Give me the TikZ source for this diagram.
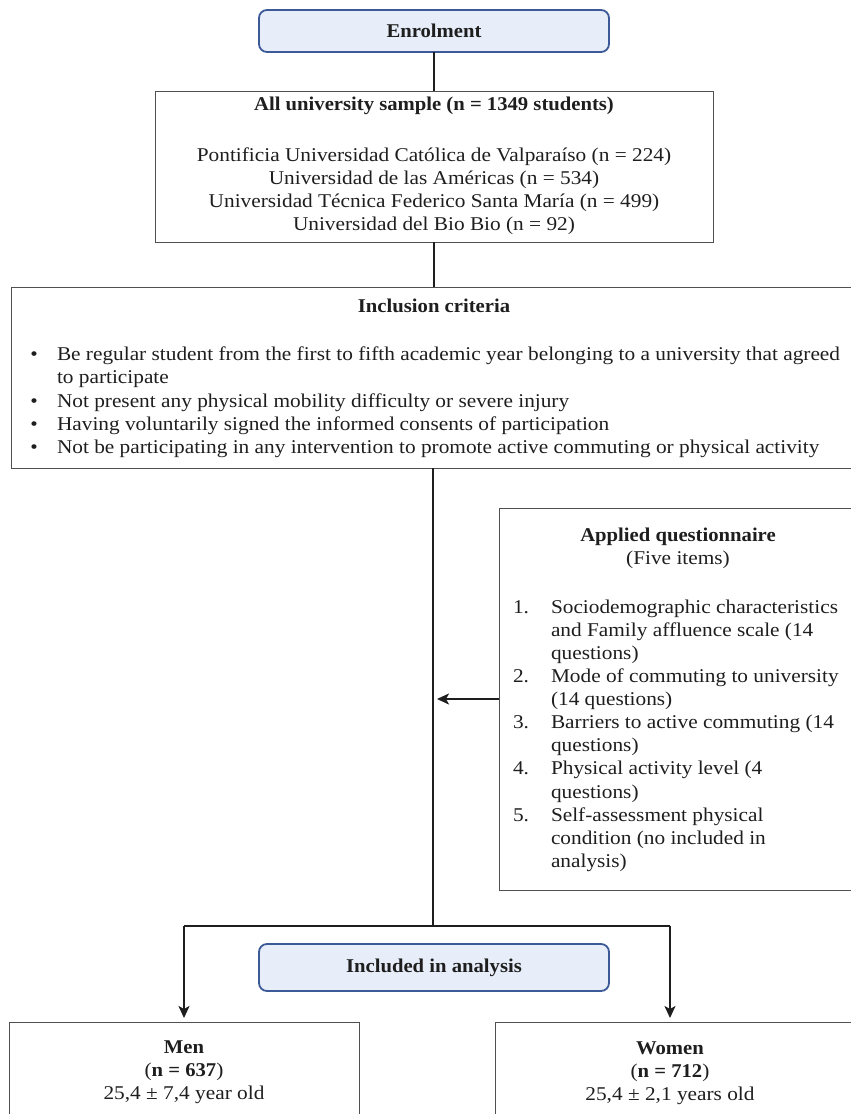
\documentclass[tikz,border=0pt]{standalone}
\usepackage{fontspec}
\setmainfont{Liberation Serif}[FakeStretch=1.093, BoldFeatures={FakeStretch=1.06}]
\usetikzlibrary{arrows.meta}

\definecolor{ink}{HTML}{1E1E1E}
\definecolor{pale}{HTML}{E8EEF9}
\definecolor{navy}{HTML}{3D5A98}
\definecolor{frame}{HTML}{505050}

\begin{document}
\begin{tikzpicture}[x=1pt,y=-1pt,
  every node/.style={inner sep=0pt, outer sep=0pt, text=ink,
    font=\fontsize{19.5}{23}\selectfont},
  pill/.style={draw=navy, line width=1.8pt, fill=pale, rounded corners=8pt},
  panel/.style={draw=frame, line width=1pt},
  link/.style={draw=ink, line width=1.8pt},
  tip/.style={-{Stealth[length=12pt,width=11pt,inset=3pt]}},
  line/.style={anchor=base},
  lline/.style={anchor=base west}
]
\useasboundingbox (0,0) rectangle (851,1114);
\clip (0,0) rectangle (851,1114);

% boxes
\node[pill, minimum width=350pt, minimum height=42pt] (enrol) at (434,31) {\bfseries Enrolment};
\node[panel, minimum width=558pt, minimum height=151pt] (all) at (434,166.5) {};
\node[panel, minimum width=846pt, minimum height=181pt] (incl) at (434,377.5) {};
\node[panel, minimum width=360pt, minimum height=382pt] (quest) at (679,699) {};
\node[pill, minimum width=350pt, minimum height=47pt] (incan) at (434,967.5) {\bfseries Included in analysis};
\node[panel, minimum width=350pt, minimum height=100pt] (men) at (184,1072) {};
\node[panel, minimum width=366pt, minimum height=100pt] (women) at (678,1072) {};

% sample box
\node[line] at (434,110) {\bfseries All university sample (n = 1349 students)};
\node[line] at (434,161) {Pontificia Universidad Católica de Valparaíso (n = 224)};
\node[line] at (434,184) {Universidad de las Américas (n = 534)};
\node[line] at (434,207) {Universidad Técnica Federico Santa María (n = 499)};
\node[line] at (434,230) {Universidad del Bio Bio (n = 92)};

% inclusion criteria
\node[line] at (434,312) {\bfseries Inclusion criteria};
\foreach \yy/\txt in {360/Be regular student from the first to fifth academic year belonging to a university that agreed,
                      383/to participate,
                      407/Not present any physical mobility difficulty or severe injury,
                      430/Having voluntarily signed the informed consents of participation,
                      453/Not be participating in any intervention to promote active commuting or physical activity}
  \node[lline] at (57,\yy) {\txt};
\foreach \yy in {360,407,430,453}
  \node[line] at (34,\yy) {\textbullet};

% questionnaire
\node[line] at (678,541) {\bfseries Applied questionnaire};
\node[line] at (678,564) {(Five items)};
\foreach \yy/\txt in {613/Sociodemographic characteristics,
                      636/and Family affluence scale (14,
                      659/questions),
                      682/Mode of commuting to university,
                      705/(14 questions),
                      728/Barriers to active commuting (14,
                      751/questions),
                      774/Physical activity level (4,
                      798/questions),
                      821/Self-assessment physical,
                      844/condition (no included in,
                      867/analysis)}
  \node[lline] at (551,\yy) {\txt};
\foreach \yy/\num in {613/1., 682/2., 728/3., 774/4., 821/5.}
  \node[lline] at (513,\yy) {\num};

% sex groups
\node[line] at (184,1053) {\bfseries Men};
\node[line] at (184,1076) {(\textbf{n = 637})};
\node[line] at (184,1099) {25,4 ± 7,4 year old};
\node[line] at (670,1054) {\bfseries Women};
\node[line] at (670,1077) {(\textbf{n = 712})};
\node[line] at (670,1100) {25,4 ± 2,1 years old};

% connectors
\coordinate (fork) at (433,926);
\coordinate (mdrop) at (184,926);
\coordinate (wdrop) at (670,926);
\draw[link] (enrol.south) -- (all.north);
\draw[link] (all.south) -- (all.south |- incl.north);
\draw[link] (incl.south -| fork) -- (fork);
\draw[link, tip, shorten >=4pt] (quest.west) -- (quest.west -| fork);
\draw[link] (mdrop) -- (wdrop);
\draw[link, tip, shorten >=4pt] (mdrop) -- (mdrop |- men.north);
\draw[link, tip, shorten >=4pt] (wdrop) -- (wdrop |- women.north);
\end{tikzpicture}
\end{document}
